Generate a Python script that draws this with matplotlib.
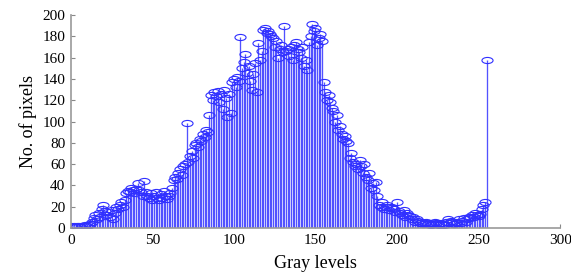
import numpy as np
import matplotlib
matplotlib.use("Agg")
import matplotlib.pyplot as plt
from matplotlib.path import Path

# histogram (gray level 0..255)
counts = [
    2, 1, 2, 1, 2, 2, 1, 2, 2, 3, 2, 3, 4, 6, 9, 12, 8, 14, 10, 18,          # 0-19
    22, 16, 12, 15, 10, 17, 8, 14, 20, 18, 22, 24, 20, 26, 33, 35, 34, 38, 36, 33,   # 20-39
    37, 42, 36, 34, 30, 44, 34, 30, 28, 33, 26, 30, 34, 28, 26, 32, 28, 35, 30, 27,  # 40-59
    30, 33, 38, 45, 48, 46, 52, 55, 50, 58, 60, 99, 62, 68, 72, 66, 78, 80, 76, 84,  # 60-79
    82, 88, 85, 92, 90, 106, 125, 120, 128, 124, 129, 118, 126, 112, 130, 122, 104, 126, 108, 137,  # 80-99
    140, 132, 142, 138, 179, 150, 156, 163, 146, 152, 138, 130, 145, 155, 128, 174, 158, 166, 186, 188,  # 100-119
    183, 185, 182, 180, 178, 170, 176, 160, 168, 172, 165, 190, 166, 168, 162, 170, 158, 172, 175, 168,  # 120-139
    165, 160, 170, 152, 158, 148, 175, 180, 192, 185, 188, 172, 178, 182, 176, 137, 128, 120, 125, 118,  # 140-159
    113, 110, 100, 106, 92, 96, 88, 84, 86, 82, 80, 66, 70, 62, 58, 60, 55, 64, 58, 52,  # 160-179
    60, 48, 45, 52, 38, 42, 36, 43, 30, 22, 20, 24, 18, 20, 22, 17, 20, 19, 18, 15,  # 180-199
    24, 16, 14, 12, 17, 10, 14, 12, 11, 8, 10, 6, 8, 7, 5, 6, 4, 5, 6, 4,  # 200-219
    5, 3, 4, 6, 5, 4, 3, 5, 4, 3, 6, 8, 5, 7, 6, 4, 5, 6, 8, 5,  # 220-239
    7, 9, 6, 8, 10, 9, 12, 10, 14, 12, 11, 13, 18, 22, 24, 158,  # 240-255
]
levels = np.arange(len(counts))

x_ticks = [0, 50, 100, 150, 200, 250, 300]
y_ticks = [0, 20, 40, 60, 80, 100, 120, 140, 160, 180, 200]

plt.rcParams['font.family'] = ['Liberation Serif', 'DejaVu Serif']

# flattened open circle (the original picture was stretched sideways)
circ = Path.unit_circle()
ellipse = Path(circ.vertices * np.array([1.0, 0.55]), circ.codes)

fig = plt.figure(figsize=(5.71, 2.74), dpi=100)
ax = fig.add_axes([0.124, 0.168, 0.857, 0.777])

markers, stems, base = ax.stem(levels, counts, linefmt='-', markerfmt=' ', basefmt=' ')
stems.set_color('#5252ff')
stems.set_linewidth(0.95)
ax.plot(levels, counts, linestyle='none', marker=ellipse, markersize=8,
        markerfacecolor='none', markeredgecolor='#3030ff', markeredgewidth=0.8)

ax.set_xlim(0, 300)
ax.set_ylim(0, 200)
ax.set_xticks(x_ticks)
ax.set_yticks(y_ticks)
ax.tick_params(axis='both', direction='in', colors='#888888', labelcolor='black',
               labelsize=11, length=3, width=0.8)
ax.tick_params(axis='x', pad=4)
ax.tick_params(axis='y', pad=4)
for side in ['top', 'right']:
    ax.spines[side].set_visible(False)
for side in ['left', 'bottom']:
    ax.spines[side].set_color('#999999')
    ax.spines[side].set_linewidth(1.2)

ax.set_xlabel('Gray levels', fontsize=13, labelpad=6)
ax.set_ylabel('No. of pixels', fontsize=13, labelpad=4)

fig.savefig('out.png', dpi=100)
